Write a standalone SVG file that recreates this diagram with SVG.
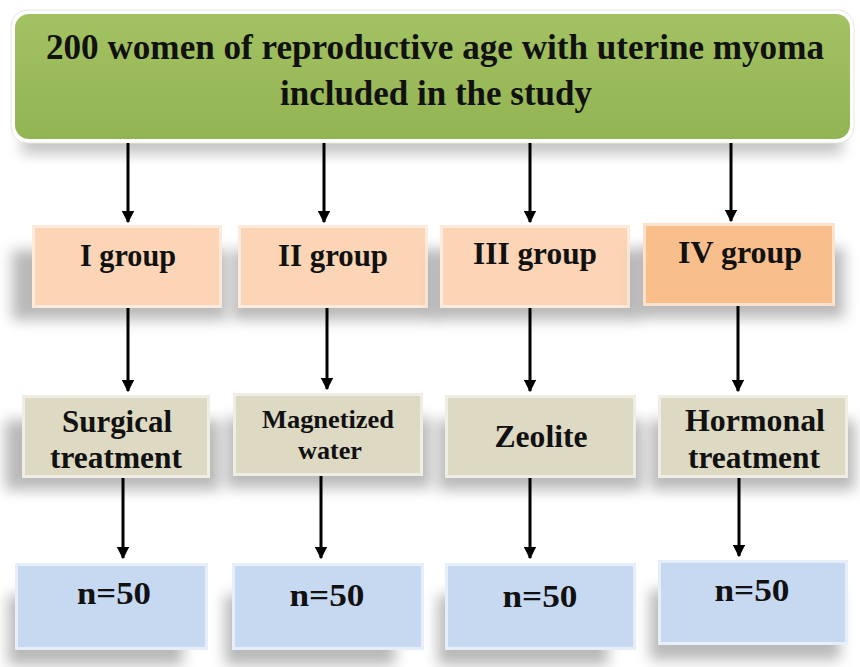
<svg xmlns="http://www.w3.org/2000/svg" width="860" height="667" viewBox="0 0 860 667">
<style>
text{font-family:"Liberation Serif","Times New Roman",serif;font-weight:bold;fill:#111;text-anchor:middle}
.conn line{stroke:#000;stroke-width:3}
.peach{fill:#fbd5b5}
.peach2{fill:#f8be8c}
.tan{fill:#ddd9c3}
.blue{fill:#c6d9f1}
.bevel{fill:none;stroke:#ffffff;stroke-opacity:0.55;stroke-width:3}
.sh{fill:#8a8a8a;filter:url(#blur)}
</style>
<defs>
<marker id="ah" viewBox="0 0 10 10" refX="9" refY="5" markerWidth="4.2" markerHeight="4.2" orient="auto" markerUnits="strokeWidth">
<path d="M0,0 L10,5 L0,10 z" fill="#000"/>
</marker>
<filter id="blur" x="-20%" y="-40%" width="140%" height="180%"><feGaussianBlur stdDeviation="7"/></filter>
<linearGradient id="gr" x1="0" y1="0" x2="0" y2="1">
<stop offset="0" stop-color="#a3c263"/><stop offset="1" stop-color="#93b453"/>
</linearGradient>
</defs>
<rect width="860" height="667" fill="#fff"/>
<!-- top -->
<g id="top">
<rect x="22" y="130" width="820" height="24" class="sh" opacity="0.5"/>
<rect x="11" y="10" width="843" height="133" rx="16" fill="#fff" stroke="#e6e6e6" stroke-width="1"/>
<rect x="15" y="14" width="835" height="125" rx="14" fill="url(#gr)"/>
<text x="435" y="59" font-size="36" textLength="778" lengthAdjust="spacingAndGlyphs">200 women of reproductive age with uterine myoma</text>
<text x="436" y="105" font-size="36" textLength="312" lengthAdjust="spacingAndGlyphs">included in the study</text>
</g>
<!-- row 1 -->
<g id="g1"><rect x="12" y="250" width="215" height="70" class="sh" opacity="0.6"/><rect x="32" y="225" width="190" height="83" class="peach"/><rect x="33.5" y="226.5" width="187" height="80" class="bevel"/><text x="128" y="266" font-size="32" textLength="96" lengthAdjust="spacingAndGlyphs">I group</text></g>
<g id="g2"><rect x="232" y="250" width="205" height="70" class="sh" opacity="0.6"/><rect x="238" y="225" width="190" height="83" class="peach"/><rect x="239.5" y="226.5" width="187" height="80" class="bevel"/><text x="333" y="266" font-size="32" textLength="110" lengthAdjust="spacingAndGlyphs">II group</text></g>
<g id="g3"><rect x="434" y="250" width="205" height="70" class="sh" opacity="0.6"/><rect x="440" y="225" width="190" height="83" class="peach"/><rect x="441.5" y="226.5" width="187" height="80" class="bevel"/><text x="535" y="264" font-size="32" textLength="124" lengthAdjust="spacingAndGlyphs">III group</text></g>
<g id="g4"><rect x="636" y="248" width="208" height="70" class="sh" opacity="0.6"/><rect x="643" y="223" width="192" height="83" class="peach2"/><rect x="644.5" y="224.5" width="189" height="80" class="bevel"/><text x="740" y="263" font-size="32" textLength="124" lengthAdjust="spacingAndGlyphs">IV group</text></g>
<!-- row 2 -->
<g id="t1"><rect x="5" y="420" width="215" height="70" class="sh" opacity="0.6"/><rect x="22" y="395" width="188" height="83" class="tan"/><rect x="23.5" y="396.5" width="185" height="80" class="bevel"/><text x="117" y="432" font-size="31" textLength="110" lengthAdjust="spacingAndGlyphs">Surgical</text><text x="116" y="468" font-size="31" textLength="132" lengthAdjust="spacingAndGlyphs">treatment</text></g>
<g id="t2"><rect x="226" y="418" width="205" height="70" class="sh" opacity="0.6"/><rect x="233" y="393" width="190" height="83" class="tan"/><rect x="234.5" y="394.5" width="187" height="80" class="bevel"/><text x="328" y="428" font-size="25" textLength="132" lengthAdjust="spacingAndGlyphs">Magnetized</text><text x="330" y="459" font-size="25" textLength="64" lengthAdjust="spacingAndGlyphs">water</text></g>
<g id="t3"><rect x="438" y="420" width="205" height="70" class="sh" opacity="0.6"/><rect x="445" y="395" width="191" height="83" class="tan"/><rect x="446.5" y="396.5" width="188" height="80" class="bevel"/><text x="541" y="447" font-size="31" textLength="93" lengthAdjust="spacingAndGlyphs">Zeolite</text></g>
<g id="t4"><rect x="650" y="420" width="205" height="70" class="sh" opacity="0.6"/><rect x="658" y="395" width="190" height="83" class="tan"/><rect x="659.5" y="396.5" width="187" height="80" class="bevel"/><text x="755" y="431" font-size="31" textLength="140" lengthAdjust="spacingAndGlyphs">Hormonal</text><text x="754" y="468" font-size="31" textLength="132" lengthAdjust="spacingAndGlyphs">treatment</text></g>
<!-- row 3 -->
<g id="n1"><rect x="8" y="595" width="175" height="70" class="sh" opacity="0.6"/><rect x="15" y="563" width="193" height="87" class="blue"/><rect x="16.5" y="564.5" width="190" height="84" class="bevel"/><text x="114" y="604" font-size="32" textLength="74" lengthAdjust="spacingAndGlyphs">n=50</text></g>
<g id="n2"><rect x="225" y="595" width="170" height="70" class="sh" opacity="0.6"/><rect x="232" y="563" width="192" height="87" class="blue"/><rect x="233.5" y="564.5" width="189" height="84" class="bevel"/><text x="327" y="606" font-size="32" textLength="75" lengthAdjust="spacingAndGlyphs">n=50</text></g>
<g id="n3"><rect x="438" y="595" width="170" height="70" class="sh" opacity="0.6"/><rect x="445" y="563" width="191" height="87" class="blue"/><rect x="446.5" y="564.5" width="188" height="84" class="bevel"/><text x="540" y="607" font-size="32" textLength="75" lengthAdjust="spacingAndGlyphs">n=50</text></g>
<g id="n4"><rect x="650" y="590" width="190" height="70" class="sh" opacity="0.6"/><rect x="658" y="560" width="190" height="85" class="blue"/><rect x="659.5" y="561.5" width="187" height="82" class="bevel"/><text x="752" y="601" font-size="32" textLength="75" lengthAdjust="spacingAndGlyphs">n=50</text></g>
<!-- connectors -->
<g class="conn">
<line x1="128" y1="143" x2="128" y2="222" marker-end="url(#ah)"/>
<line x1="324" y1="143" x2="324" y2="222" marker-end="url(#ah)"/>
<line x1="530" y1="143" x2="530" y2="222" marker-end="url(#ah)"/>
<line x1="731" y1="143" x2="731" y2="221" marker-end="url(#ah)"/>
<line x1="128" y1="308" x2="128" y2="391" marker-end="url(#ah)"/>
<line x1="327" y1="308" x2="327" y2="389" marker-end="url(#ah)"/>
<line x1="530" y1="308" x2="530" y2="391" marker-end="url(#ah)"/>
<line x1="738" y1="306" x2="738" y2="391" marker-end="url(#ah)"/>
<line x1="123" y1="478" x2="123" y2="558" marker-end="url(#ah)"/>
<line x1="321" y1="476" x2="321" y2="558" marker-end="url(#ah)"/>
<line x1="530" y1="478" x2="530" y2="558" marker-end="url(#ah)"/>
<line x1="739" y1="478" x2="739" y2="556" marker-end="url(#ah)"/>
</g>
</svg>
